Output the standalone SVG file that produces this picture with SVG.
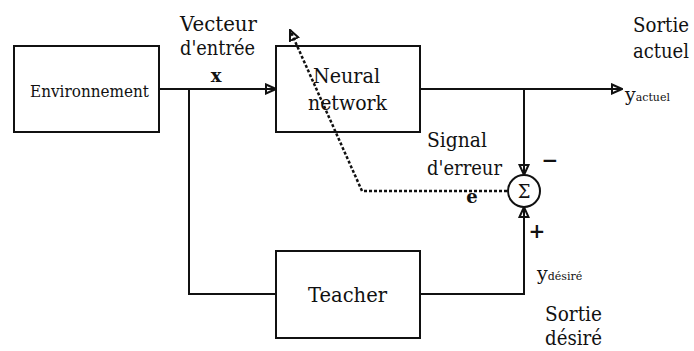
<svg xmlns="http://www.w3.org/2000/svg" width="694" height="351" viewBox="0 0 694 351">
<style>
  text { fill: #111; font-family: 'DejaVu Serif', serif; }
  .box { fill: none; stroke: #111; stroke-width: 2; }
  .ln { fill: none; stroke: #111; stroke-width: 2; }
  .dash { fill: none; stroke: #111; stroke-width: 2.5; stroke-dasharray: 3 2; }
</style>
<defs>
  <marker id="arr" viewBox="0 0 12 12" refX="11" refY="6" markerWidth="12" markerHeight="12" markerUnits="userSpaceOnUse" orient="auto">
    <path d="M1,1.5 L11,6 L1,10.5 Z" fill="none" stroke="#111" stroke-width="2"/>
  </marker>
</defs>
<rect width="694" height="351" fill="#fff"/>
<g id="connectors">
  <path class="ln" d="M159,89 H276" marker-end="url(#arr)"/>
  <path class="ln" d="M189,89 V294 H276"/>
  <path class="ln" d="M420,89 H622" marker-end="url(#arr)"/>
  <path class="ln" d="M524,89 V175" marker-end="url(#arr)"/>
  <path class="ln" d="M420,294 H524 V207" marker-end="url(#arr)"/>
  <path class="dash" d="M507,191 H362 L290,30" marker-end="url(#arr)"/>
</g>
<g id="environnement">
  <rect class="box" x="14" y="46" width="145" height="86"/>
  <text x="30" y="97" font-size="17" textLength="119" lengthAdjust="spacingAndGlyphs">Environnement</text>
</g>
<g id="neural-network">
  <rect class="box" x="276" y="46" width="144" height="86"/>
  <text x="313" y="83" font-size="20" textLength="67" lengthAdjust="spacingAndGlyphs">Neural</text>
  <text x="308" y="110" font-size="20" textLength="79" lengthAdjust="spacingAndGlyphs">network</text>
</g>
<g id="teacher">
  <rect class="box" x="276" y="251" width="144" height="87"/>
  <text x="308" y="302" font-size="21" textLength="79" lengthAdjust="spacingAndGlyphs">Teacher</text>
</g>
<g id="sum">
  <circle cx="524" cy="191" r="16" fill="#fff" stroke="#111" stroke-width="2"/>
  <text x="524" y="198" font-size="18" text-anchor="middle">Σ</text>
  <text x="550" y="167" font-size="20" font-weight="bold" text-anchor="middle">−</text>
  <text x="537" y="238" font-size="20" font-weight="bold" text-anchor="middle">+</text>
</g>
<g id="labels">
  <text x="180" y="31" font-size="20" textLength="77" lengthAdjust="spacingAndGlyphs">Vecteur</text>
  <text x="180" y="55" font-size="20" textLength="75" lengthAdjust="spacingAndGlyphs">d'entrée</text>
  <text x="216" y="82" font-size="18" font-weight="bold" text-anchor="middle">x</text>
  <text x="633" y="32" font-size="20" textLength="56" lengthAdjust="spacingAndGlyphs">Sortie</text>
  <text x="633" y="58" font-size="20" textLength="56" lengthAdjust="spacingAndGlyphs">actuel</text>
  <text x="625" y="101" font-size="19">y<tspan font-size="11">actuel</tspan></text>
  <text x="427" y="147" font-size="20" textLength="60" lengthAdjust="spacingAndGlyphs">Signal</text>
  <text x="427" y="175" font-size="20" textLength="75" lengthAdjust="spacingAndGlyphs">d'erreur</text>
  <text x="472" y="203" font-size="18" font-weight="bold" text-anchor="middle">e</text>
  <text x="537" y="280" font-size="19">y<tspan font-size="11">désiré</tspan></text>
  <text x="545" y="321" font-size="20" textLength="57" lengthAdjust="spacingAndGlyphs">Sortie</text>
  <text x="545" y="345" font-size="20" textLength="57" lengthAdjust="spacingAndGlyphs">désiré</text>
</g>
</svg>
